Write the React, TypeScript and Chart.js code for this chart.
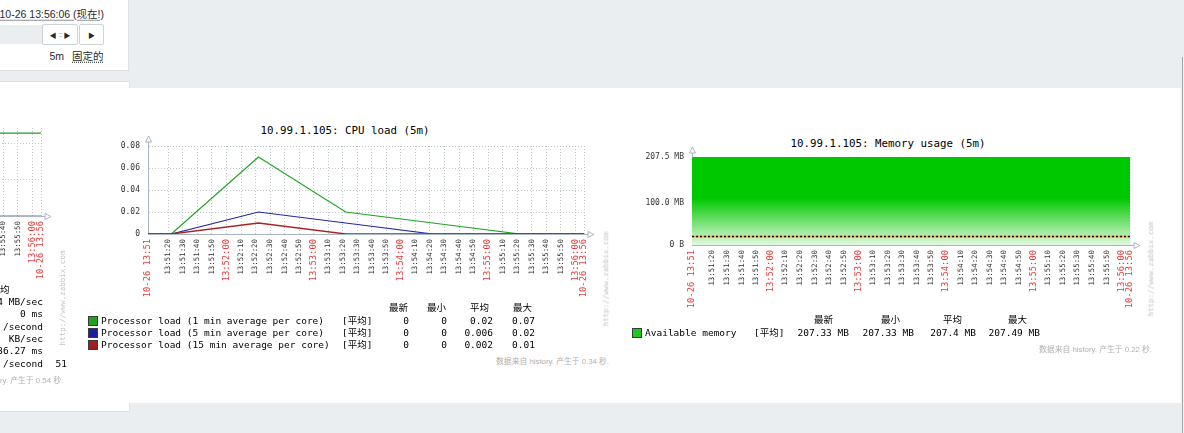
import React, { useEffect, useRef } from "react";
import { Chart, registerables } from "chart.js";

Chart.register(...registerables);

// ---------- data ----------
const rangeStart = "13:51:06";
const rangeEnd = "13:56:06";

const timeTickLabels = [
  "10-26 13:51", "13:51:20", "13:51:30", "13:51:40", "13:51:50",
  "13:52:00", "13:52:10", "13:52:20", "13:52:30", "13:52:40", "13:52:50",
  "13:53:00", "13:53:10", "13:53:20", "13:53:30", "13:53:40", "13:53:50",
  "13:54:00", "13:54:10", "13:54:20", "13:54:30", "13:54:40", "13:54:50",
  "13:55:00", "13:55:10", "13:55:20", "13:55:30", "13:55:40", "13:55:50",
  "13:56:00", "10-26 13:56",
];

const sampleTimes = ["13:51:06", "13:51:22", "13:52:22", "13:53:22", "13:54:22", "13:55:22", "13:56:06"];
const load1 = [0, 0, 0.07, 0.02, 0.01, 0, 0];
const load5 = [0, 0, 0.02, 0.01, 0, 0, 0];
const load15 = [0, 0, 0.01, 0, 0, 0, 0];
const cpuYTicks = [0, 0.02, 0.04, 0.06, 0.08];
const cpuYLabels = ["0", "0.02", "0.04", "0.06", "0.08"];

const memAvailableMB = [207.49, 207.49, 207.43, 207.4, 207.37, 207.33, 207.33];
const memTriggerMB = 20;
const memYTicks = [0, 100, 207.5];
const memYLabels = ["0 B", "100.0 MB", "207.5 MB"];

const leftTimes = ["13:51:06", "13:56:06"];
const leftGreen = [2.3, 2.3];
const leftBlue = [0, 0];
const leftYTicks = [0, 1, 2];

const cpuLegendNames = [
  "Processor load (1 min average per core)",
  "Processor load (5 min average per core)",
  "Processor load (15 min average per core)",
];
const cpuLast = ["0", "0", "0"];
const cpuMin = ["0", "0", "0"];
const cpuAvg = ["0.02", "0.006", "0.002"];
const cpuMax = ["0.07", "0.02", "0.01"];
const memLegend = ["207.33 MB", "207.33 MB", "207.4 MB", "207.49 MB"];
const statHeaders = ["最新", "最小", "平均", "最大"];
const leftRows = ["4 MB/sec", "0 ms", "/second", "KB/sec", "36.27 ms", "/second"];

// ---------- styles ----------
const MONO = "'DejaVu Sans Mono', 'Noto Sans CJK SC', monospace";
const SANS = "'Liberation Sans', Arial, 'Noto Sans CJK SC', sans-serif";
const GRID = "#bcc6cf";
const AXIS = "#a9b6c2";
const RED = "#ea3b3b";
const TICK_TXT = "#333333";
const GREEN = "#22a322";
const BLUE = "#2626a6";
const DRED = "#a82424";
const X_AXIS_H = 70;
const Y_AXIS_W = 58;
const PAD_TOP = 26;

function secOf(t: string) {
  const [h, m, s] = t.split(":").map(Number);
  return h * 3600 + m * 60 + (s || 0);
}
const T0 = secOf(rangeStart);
const SPAN = secOf(rangeEnd) - T0;
const xTickValues = timeTickLabels.map((l, i) =>
  l.startsWith("10-26") ? (i === 0 ? 0 : SPAN) : secOf(l) - T0
);
const isMajor = (i: number) =>
  !!timeTickLabels[i] && (timeTickLabels[i].startsWith("10-26") || timeTickLabels[i].endsWith(":00"));

const pts = (times: string[], vals: number[]) => times.map((t, i) => ({ x: secOf(t) - T0, y: vals[i] }));

const axisArrows = {
  id: "axisArrows",
  afterDraw(chart: any) {
    const { ctx, chartArea: a } = chart;
    ctx.save();
    ctx.strokeStyle = AXIS;
    ctx.fillStyle = "#fff";
    ctx.lineWidth = 1;
    const x = Math.round(a.left) + 0.5;
    ctx.beginPath();
    ctx.moveTo(x, a.top);
    ctx.lineTo(x, a.top - 4);
    ctx.stroke();
    ctx.beginPath();
    ctx.moveTo(x, a.top - 10);
    ctx.lineTo(x - 3, a.top - 4);
    ctx.lineTo(x + 3, a.top - 4);
    ctx.closePath();
    ctx.fill();
    ctx.stroke();
    const y = Math.round(a.bottom) + 0.5;
    ctx.beginPath();
    ctx.moveTo(a.right, y);
    ctx.lineTo(a.right + 4, y);
    ctx.stroke();
    ctx.beginPath();
    ctx.moveTo(a.right + 10, y);
    ctx.lineTo(a.right + 4, y - 3);
    ctx.lineTo(a.right + 4, y + 3);
    ctx.closePath();
    ctx.fill();
    ctx.stroke();
    ctx.restore();
  },
};

function xScale(z: number) {
  return {
    type: "linear",
    min: 0,
    max: SPAN,
    z,
    afterBuildTicks: (s: any) => {
      s.ticks = xTickValues.map((v) => ({ value: v }));
    },
    afterFit: (s: any) => {
      s.height = X_AXIS_H;
    },
    grid: { color: GRID, lineWidth: 1, drawTicks: false },
    border: { display: true, color: AXIS, width: 1, dash: [1, 2] },
    ticks: {
      autoSkip: false,
      minRotation: 90,
      maxRotation: 90,
      padding: 5,
      callback: (_v: any, i: number) => timeTickLabels[i],
      color: (c: any) => (isMajor(c.index) ? RED : TICK_TXT),
      font: (c: any) => ({ family: MONO, size: isMajor(c.index) ? 8.8 : 7.4 }),
    },
  };
}

function yScale(min: number, max: number, ticks: number[], labels: string[] | null, gridShow: boolean) {
  return {
    type: "linear",
    min,
    max,
    afterBuildTicks: (s: any) => {
      s.ticks = ticks.map((v) => ({ value: v }));
    },
    afterFit: (s: any) => {
      s.width = Y_AXIS_W;
    },
    grid: { display: gridShow, color: GRID, lineWidth: 1, drawTicks: false },
    border: { display: true, color: AXIS, width: 1, dash: [1, 2] },
    ticks: {
      padding: 8,
      color: TICK_TXT,
      font: { family: MONO, size: 8 },
      callback: (_v: any, i: number) => (labels ? labels[i] : ""),
    },
  };
}

function baseOptions(scales: any, padRight: number) {
  return {
    responsive: false,
    animation: false,
    events: [],
    layout: { padding: { left: 0, top: PAD_TOP, right: padRight, bottom: 0 } },
    plugins: { legend: { display: false }, tooltip: { enabled: false }, title: { display: false } },
    elements: { point: { radius: 0 }, line: { tension: 0 } },
    scales,
  };
}

function cpuConfig(): any {
  return {
    type: "line",
    data: {
      datasets: [
        { data: pts(sampleTimes, load1), borderColor: GREEN, borderWidth: 1.2, order: 3 },
        { data: pts(sampleTimes, load5), borderColor: BLUE, borderWidth: 1.2, order: 2 },
        { data: pts(sampleTimes, load15), borderColor: DRED, borderWidth: 1.4, order: 1 },
      ],
    },
    options: baseOptions({ x: xScale(0), y: yScale(0, 0.08, cpuYTicks, cpuYLabels, true) }, 36),
    plugins: [axisArrows],
  };
}

function memConfig(): any {
  const trig = [
    { x: 0, y: memTriggerMB },
    { x: SPAN, y: memTriggerMB },
  ];
  return {
    type: "line",
    data: {
      datasets: [
        { data: trig, borderColor: "#111", borderWidth: 1.5, borderDash: [2, 2], order: 1 },
        { data: trig, borderColor: "#f0a040", borderWidth: 1.5, order: 2 },
        {
          data: pts(sampleTimes, memAvailableMB),
          borderColor: "#00c800",
          borderWidth: 1,
          fill: "origin",
          order: 3,
          backgroundColor: (c: any) => {
            const a = c.chart.chartArea;
            if (!a) return "#00c800";
            const g = c.chart.ctx.createLinearGradient(0, a.top, 0, a.bottom);
            g.addColorStop(0, "#00c800");
            g.addColorStop(0.47, "#00c800");
            g.addColorStop(1, "#e2f8df");
            return g;
          },
        },
      ],
    },
    options: baseOptions({ x: { ...xScale(1), grid: { color: "rgba(210,215,220,0.75)", drawTicks: false } }, y: yScale(0, 207.5, memYTicks, memYLabels, false) }, 50),
    plugins: [axisArrows],
  };
}

function leftConfig(): any {
  return {
    type: "line",
    data: {
      datasets: [
        { data: pts(leftTimes, leftBlue), borderColor: "#6a6ad8", borderWidth: 1.2, order: 1 },
        { data: pts(leftTimes, leftGreen), borderColor: "#269a26", borderWidth: 1.2, order: 2 },
      ],
    },
    options: baseOptions({ x: xScale(0), y: yScale(0, 2.44, leftYTicks, null, true) }, 36),
    plugins: [axisArrows],
  };
}

function ChartBox({ left, top, width, height, make }: any) {
  const ref = useRef<HTMLCanvasElement>(null);
  useEffect(() => {
    const chart = new Chart(ref.current as HTMLCanvasElement, make());
    return () => chart.destroy();
  }, []);
  return (
    <canvas
      ref={ref}
      width={width}
      height={height}
      style={{ position: "absolute", left, top, width, height }}
    />
  );
}

function Txt({ x, y, children, align = "left", size = 9.5, color = "#000", font = MONO, style = {} }: any) {
  const tx = align === "right" ? "-100%" : align === "center" ? "-50%" : "0";
  return (
    <div
      style={{
        position: "absolute",
        left: x,
        top: y,
        transform: `translate(${tx}, -50%)`,
        fontFamily: font,
        fontSize: size,
        color,
        whiteSpace: "pre",
        lineHeight: 1,
        ...style,
      }}
    >
      {children}
    </div>
  );
}

function Watermark({ x, y }: any) {
  return (
    <div
      style={{
        position: "absolute",
        left: x,
        top: y,
        transform: "translate(-50%, -50%) rotate(-90deg)",
        fontFamily: MONO,
        fontSize: 7.5,
        color: "#c4c4c4",
        whiteSpace: "pre",
        lineHeight: 1,
      }}
    >
      http://www.zabbix.com
    </div>
  );
}

function Square({ x, y, color }: any) {
  return (
    <div
      style={{
        position: "absolute",
        left: x,
        top: y - 5,
        width: 8,
        height: 8,
        background: color,
        border: "1px solid #3a3a3a",
      }}
    />
  );
}

export default function App() {
  const cpuRows = [321, 333, 345];
  const cpuColors = ["#1fa01f", "#1e1ea0", "#a01e1e"];
  const cpuHeadR = [408, 446, 489, 532];
  const cpuValR = [409, 447, 493, 535];
  const memHeadR = [833, 900, 962, 1027];
  const memValR = [849, 914, 976, 1040];
  const leftRowY = [302, 314, 327, 339, 351, 364];
  return (
    <div
      style={{
        position: "absolute",
        left: 0,
        top: 0,
        width: 1184,
        height: 433,
        background: "#ebeef0",
        overflow: "hidden",
        fontFamily: SANS,
      }}
    >
      {/* top-left time panel */}
      <div style={{ position: "absolute", left: -2, top: -2, width: 131, height: 73, background: "#fff", border: "1px solid #dde2e6", boxSizing: "border-box" }} />
      <Txt x={104} y={14} align="right" size={10.5} font={SANS} color="#1f2c33" style={{ textDecoration: "underline dotted", textUnderlineOffset: 2 }}>
        10-26 13:56:06 (现在!)
      </Txt>
      <div style={{ position: "absolute", left: 0, top: 25, width: 43, height: 19, background: "#ebeef0" }} />
      <div style={{ position: "absolute", left: 42, top: 24, width: 36, height: 21, background: "#fff", border: "1px solid #cdd4d9", borderRadius: 2, boxSizing: "border-box", display: "flex", alignItems: "center", justifyContent: "center", fontSize: 7, color: "#1f2c33", gap: 2 }}>
        <span>◀</span>
        <span style={{ color: "#9aa4ab", fontSize: 7, letterSpacing: -1 }}>:::</span>
        <span>▶</span>
      </div>
      <div style={{ position: "absolute", left: 79, top: 24, width: 25, height: 21, background: "#fff", border: "1px solid #cdd4d9", borderRadius: 2, boxSizing: "border-box", display: "flex", alignItems: "center", justifyContent: "center", fontSize: 7, color: "#1f2c33" }}>
        <span>▶</span>
      </div>
      <Txt x={64} y={56} align="right" size={10.5} font={SANS} color="#1f2c33">5m</Txt>
      <Txt x={72} y={56} size={10.5} font={SANS} color="#1f2c33" style={{ textDecoration: "underline dotted", textUnderlineOffset: 2 }}>
        固定的
      </Txt>

      {/* left panel + main white area */}
      <div style={{ position: "absolute", left: -2, top: 81, width: 132, height: 331, background: "#fff", border: "1px solid #dde2e6", boxSizing: "border-box" }} />
      <div style={{ position: "absolute", left: 0, top: 88, width: 1181, height: 315, background: "#fff" }} />
      <div style={{ position: "absolute", left: 1182, top: 57, width: 1, height: 376, background: "#a6a6a6" }} />
      <div style={{ position: "absolute", left: 1183, top: 57, width: 1, height: 376, background: "#f4f4f4" }} />

      {/* left partial chart */}
      <ChartBox left={41 - 436 - Y_AXIS_W} top={128 - PAD_TOP} width={Y_AXIS_W + 436 + 36} height={PAD_TOP + 88 + X_AXIS_H} make={leftConfig} />
      <Txt x={0} y={290}>均</Txt>
      {leftRows.map((r, i) => (
        <Txt key={i} x={43} y={leftRowY[i]} align="right">{r}</Txt>
      ))}
      <Txt x={67} y={364} align="right">51</Txt>
      <Txt x={0} y={381} size={7.8} color="#b0b0b0" font={SANS}>ry. 产生于 0.54 秒.</Txt>
      <Watermark x={63} y={298} />

      {/* CPU chart */}
      <Txt x={345} y={131} align="center" size={10.8}>10.99.1.105: CPU load (5m)</Txt>
      <ChartBox left={148 - Y_AXIS_W} top={146 - PAD_TOP} width={Y_AXIS_W + 436 + 36} height={PAD_TOP + 88 + X_AXIS_H} make={cpuConfig} />
      <Watermark x={606} y={279} />
      {statHeaders.map((h, i) => (
        <Txt key={h} x={cpuHeadR[i]} y={308} align="right">{h}</Txt>
      ))}
      {cpuLegendNames.map((n, r) => (
        <React.Fragment key={n}>
          <Square x={88} y={cpuRows[r]} color={cpuColors[r]} />
          <Txt x={101} y={cpuRows[r]}>{n}</Txt>
          <Txt x={342} y={cpuRows[r]}>[平均]</Txt>
          {[cpuLast[r], cpuMin[r], cpuAvg[r], cpuMax[r]].map((v, i) => (
            <Txt key={i} x={cpuValR[i]} y={cpuRows[r]} align="right">{v}</Txt>
          ))}
        </React.Fragment>
      ))}
      <Txt x={609} y={362} align="right" size={7.8} color="#b0b0b0" font={SANS}>数据来自 history. 产生于 0.34 秒.</Txt>

      {/* Memory chart */}
      <Txt x={888} y={144} align="center" size={10.8}>10.99.1.105: Memory usage (5m)</Txt>
      <ChartBox left={692 - Y_AXIS_W} top={157 - PAD_TOP} width={Y_AXIS_W + 438 + 50} height={PAD_TOP + 88 + X_AXIS_H} make={memConfig} />
      <Watermark x={1151} y={269} />
      {statHeaders.map((h, i) => (
        <Txt key={h} x={memHeadR[i]} y={320} align="right">{h}</Txt>
      ))}
      <Square x={632} y={333} color="#1ec81e" />
      <Txt x={645} y={333}>Available memory</Txt>
      <Txt x={754} y={333}>[平均]</Txt>
      {memLegend.map((v, i) => (
        <Txt key={i} x={memValR[i]} y={333} align="right">{v}</Txt>
      ))}
      <Txt x={1152} y={350} align="right" size={7.8} color="#b0b0b0" font={SANS}>数据来自 history. 产生于 0.22 秒.</Txt>
    </div>
  );
}
